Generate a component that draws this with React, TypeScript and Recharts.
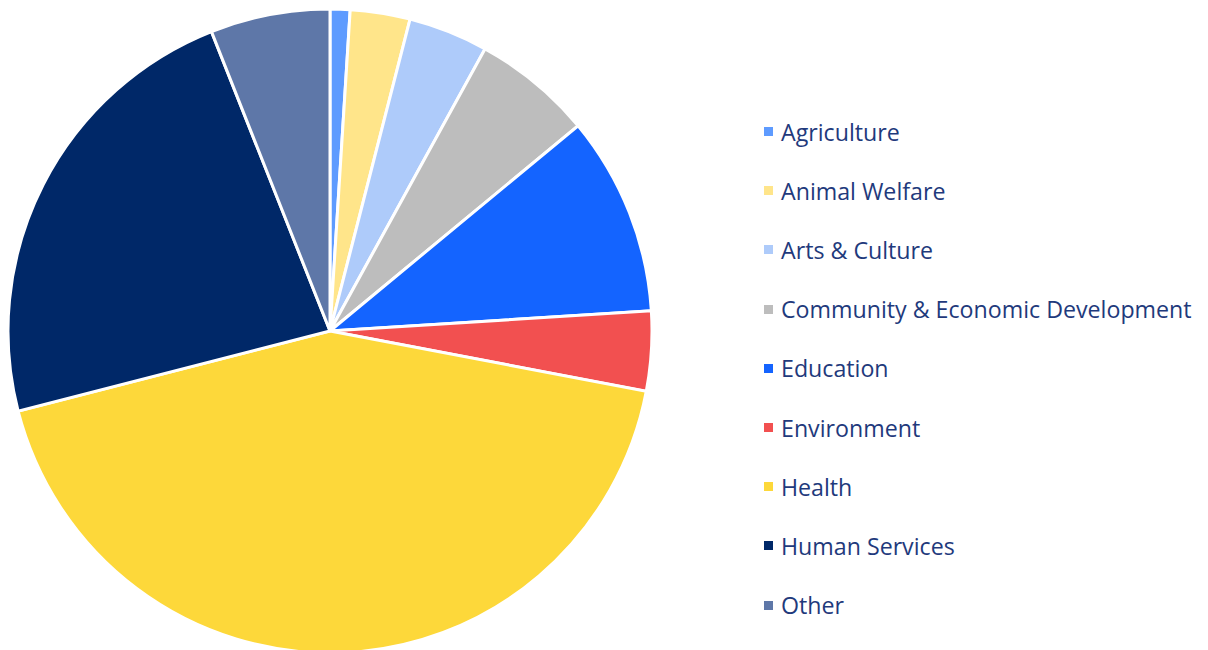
import React from 'react';
import { PieChart, Pie, Cell, Legend } from 'recharts';

const categories = [
    'Agriculture',
    'Animal Welfare',
    'Arts & Culture',
    'Community & Economic Development',
    'Education',
    'Environment',
    'Health',
    'Human Services',
    'Other',
];
const shares = [1, 3, 4, 6, 10, 4, 43, 23, 6];
const colors = ['#5e9bff', '#ffe58a', '#aecbfa', '#bdbdbd', '#1464ff', '#f25050', '#fdd83a', '#002868', '#5e77a8'];

const data = categories.map((name, i) => ({ name, value: shares[i] }));

function LegendList() {
    return (
        <div style={{ display: 'flex', flexDirection: 'column' }}>
            {categories.map((name, i) => (
                <div key={name} style={{ display: 'flex', alignItems: 'center', height: 59.2 }}>
                    <span style={{ width: 9, height: 9, background: colors[i], marginRight: 8 }} />
                    <span style={{ fontFamily: '"Open Sans", sans-serif', fontSize: 23.2, color: '#1f3a7c', whiteSpace: 'nowrap' }}>{name}</span>
                </div>
            ))}
        </div>
    );
}

export default function App() {
    return (
        <div style={{ position: 'absolute', left: 0, top: 0 }}>
            <PieChart width={1208} height={650}>
                <Pie
                    data={data}
                    dataKey="value"
                    nameKey="name"
                    cx={325}
                    cy={326}
                    outerRadius={322}
                    startAngle={90}
                    endAngle={-270}
                    stroke="#ffffff"
                    strokeWidth={3}
                    isAnimationActive={false}
                >
                    {data.map((d, i) => (
                        <Cell key={d.name} fill={colors[i]} />
                    ))}
                </Pie>
                <Legend
                    layout="vertical"
                    align="right"
                    verticalAlign="top"
                    content={() => <LegendList />}
                    wrapperStyle={{ left: 764, top: 102, width: 440 }}
                />
            </PieChart>
        </div>
    );
}
